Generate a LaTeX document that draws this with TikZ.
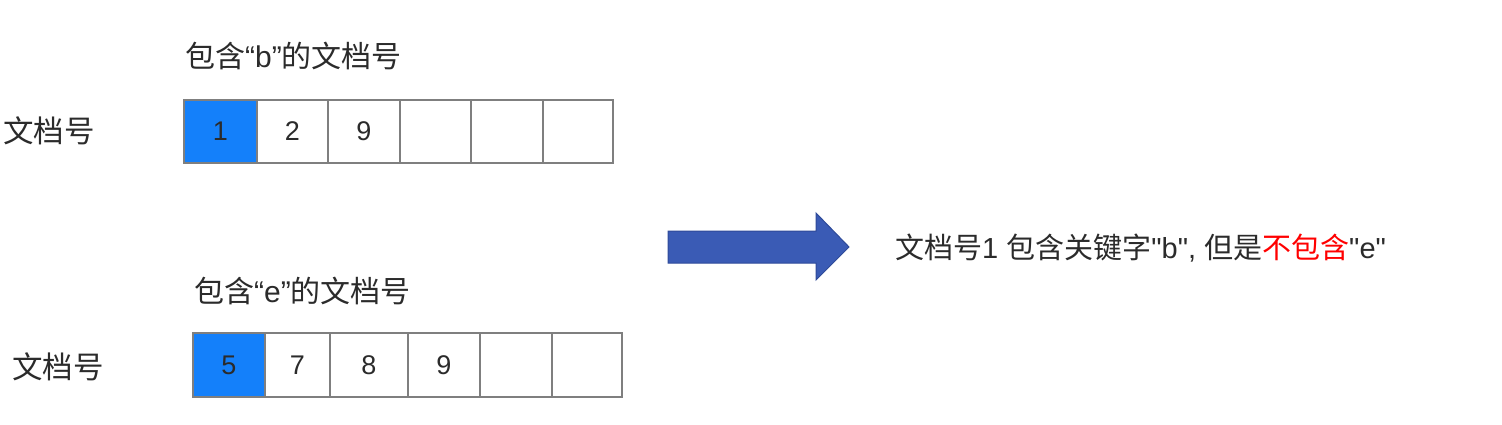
\documentclass[tikz,border=0pt]{standalone}
\usepackage{fontspec}
\setmainfont{Liberation Sans}[Ligatures=TeXOff]
\newfontfamily\cjk{Noto Sans CJK SC}
\begin{document}
\begin{tikzpicture}[x=1pt,y=-1pt,
  cell/.style={draw=cellgray,line width=2pt,minimum height=63pt,inner sep=0pt,font=\fontsize{27}{30}\selectfont,text=txt},
  hit/.style={cell,fill=hitblue},
  lbl/.style={inner sep=0pt,text=txt,font=\fontsize{29}{33}\selectfont},
  head/.style={lbl,font=\fontsize{30}{34}\selectfont},
  side/.style={lbl,font=\fontsize{30.5}{34}\selectfont},
  bigarrow/.style={fill=arrowblue,draw=arrowedge,line width=1pt}]
\definecolor{cellgray}{HTML}{7F7F7F}
\definecolor{hitblue}{HTML}{1480FA}
\definecolor{txt}{HTML}{2B2B2B}
\definecolor{arrowblue}{HTML}{3A5BB5}
\definecolor{arrowedge}{HTML}{2E4A99}
\definecolor{redtxt}{HTML}{FF0000}
\useasboundingbox[fill=white] (0,0) rectangle (1502,424);
% top
\node[head,anchor=west] (hb) at (185,56) {{\cjk 包含}“b”{\cjk 的文档号}};
\node[side,anchor=west] (ltop) at (3,131) {\cjk 文档号};
\node[hit,minimum width=73pt] (a1) at (220.5,131.5) {1};
\node[cell,minimum width=71pt] (a2) at (292.5,131.5) {2};
\node[cell,minimum width=72pt] (a3) at (364,131.5) {9};
\node[cell,minimum width=71pt] (a4) at (435.5,131.5) {};
\node[cell,minimum width=72pt] (a5) at (507,131.5) {};
\node[cell,minimum width=70pt] (a6) at (578,131.5) {};
% bottom
\node[head,anchor=west] (he) at (194,291) {{\cjk 包含}“e”{\cjk 的文档号}};
\node[side,anchor=west] (lbot) at (12,367) {\cjk 文档号};
\node[hit,minimum width=72pt,minimum height=64pt] (b1) at (229,365) {5};
\node[cell,minimum width=65pt,minimum height=64pt] (b2) at (297.5,365) {7};
\node[cell,minimum width=78pt,minimum height=64pt] (b3) at (369,365) {8};
\node[cell,minimum width=72pt,minimum height=64pt] (b4) at (444,365) {9};
\node[cell,minimum width=72pt,minimum height=64pt] (b5) at (516,365) {};
\node[cell,minimum width=70pt,minimum height=64pt] (b6) at (587,365) {};
% arrow
\draw[bigarrow] (668,231) -- (816,231) -- (816,213) -- (849,247) -- (816,280) -- (816,263) -- (668,263) -- cycle;
% result
\node[lbl,anchor=west,font=\fontsize{29}{33}\selectfont] (res) at (895,248)
  {{\cjk 文档号}1 {\cjk 包含关键字}"b", {\cjk 但是}\textcolor{redtxt}{\cjk 不包含}"e"};
\end{tikzpicture}
\end{document}
